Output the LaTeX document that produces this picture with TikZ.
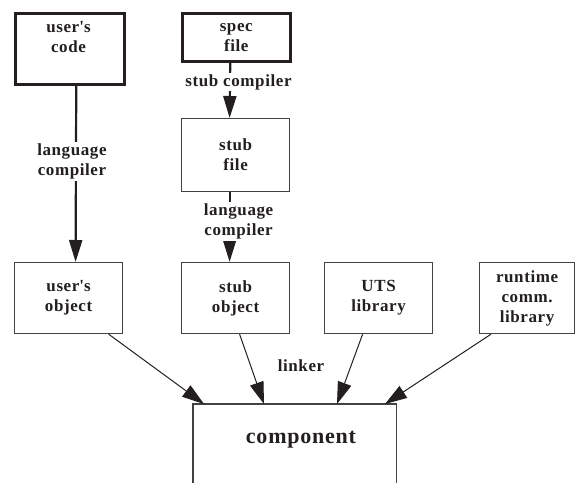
\documentclass[tikz,border=0pt]{standalone}
\usepackage{fontspec}
\setmainfont{Liberation Serif}[LetterSpace=3.5]
\usetikzlibrary{arrows.meta}
\definecolor{ink}{RGB}{35,31,32}
\newcommand{\apo}{\textquotesingle}
\begin{document}
\begin{tikzpicture}[x=1pt,y=-1pt,
  txt/.style={font=\fontsize{17}{20}\selectfont\bfseries, align=center, text=ink},
  lbl/.style={txt, fill=white, inner sep=2pt},
  thickbox/.style={draw=ink, line width=2.5pt, anchor=north west, inner sep=0pt},
  thinbox/.style={draw=ink!85, line width=1.2pt, anchor=north west, inner sep=0pt, txt},
  vconn/.style={draw=ink, line width=2.2pt, -{Triangle[length=22pt,width=13pt]}},
  lconn/.style={draw=ink, line width=1pt, -{Triangle[length=22pt,width=14pt]}},
]
\useasboundingbox (0,0) rectangle (576,483);

% top row
\node[thickbox, minimum width=109pt, minimum height=71pt] (ucode) at (14,12) {};
\node[txt, anchor=north] (ucodetxt) at (68.5,18) {user\apo s\\code};
\node[thickbox, txt, minimum width=108pt, minimum height=48pt] (spec) at (181,12) {spec\\file};
\node[thinbox, minimum width=108pt, minimum height=73pt] (stubf) at (181,118) {stub\\file};

% middle row
\node[thinbox, minimum width=108pt, minimum height=71pt] (uobj) at (14,262) {user\apo s\\object};
\node[thinbox, minimum width=108pt, minimum height=71pt] (sobj) at (181,262) {stub\\object};
\node[thinbox, minimum width=108pt, minimum height=71pt] (uts) at (324,262) {UTS\\library};
\node[thinbox, minimum width=95pt, minimum height=71pt] (rt) at (479,262) {runtime\\comm.\\library};

% component (cut off at the bottom)
\node[anchor=north west, minimum width=203pt, minimum height=79pt, inner sep=0pt] (comp) at (193,404) {};
\node[txt, font=\fontsize{22}{26}\selectfont\bfseries] (comptxt) at (301,440) {component};
\draw[ink!85, line width=1.2pt] (comp.south west) -- (comp.north west) -- (comp.north east) -- (comp.south east);

% vertical connectors
\draw[vconn] ([xshift=6.5pt]ucode.south) -- node[lbl, pos=0.43, xshift=-4pt] {language\\compiler} ([xshift=7pt]uobj.north);
\draw[vconn] ([xshift=-6pt]spec.south) -- node[lbl, pos=0.35, xshift=8.5pt, inner ysep=1pt] {stub compiler} ([xshift=-6pt]stubf.north);
\draw[vconn] ([xshift=-6pt]stubf.south) -- node[lbl, pos=0.42, xshift=9pt] {language\\compiler} ([xshift=-6pt]sobj.north);

% linker connectors
\draw[lconn] ([xshift=-14.5pt]uobj.south east) -- ([xshift=11pt]comp.north west);
\draw[lconn] ([xshift=4pt]sobj.south) -- ([xshift=71pt]comp.north west);
\draw[lconn] ([xshift=-16pt]uts.south) -- ([xshift=144pt]comp.north west);
\draw[lconn] ([xshift=12pt]rt.south west) -- ([xshift=192pt]comp.north west);
\node[txt] (linker) at (301,366) {linker};
\end{tikzpicture}
\end{document}
